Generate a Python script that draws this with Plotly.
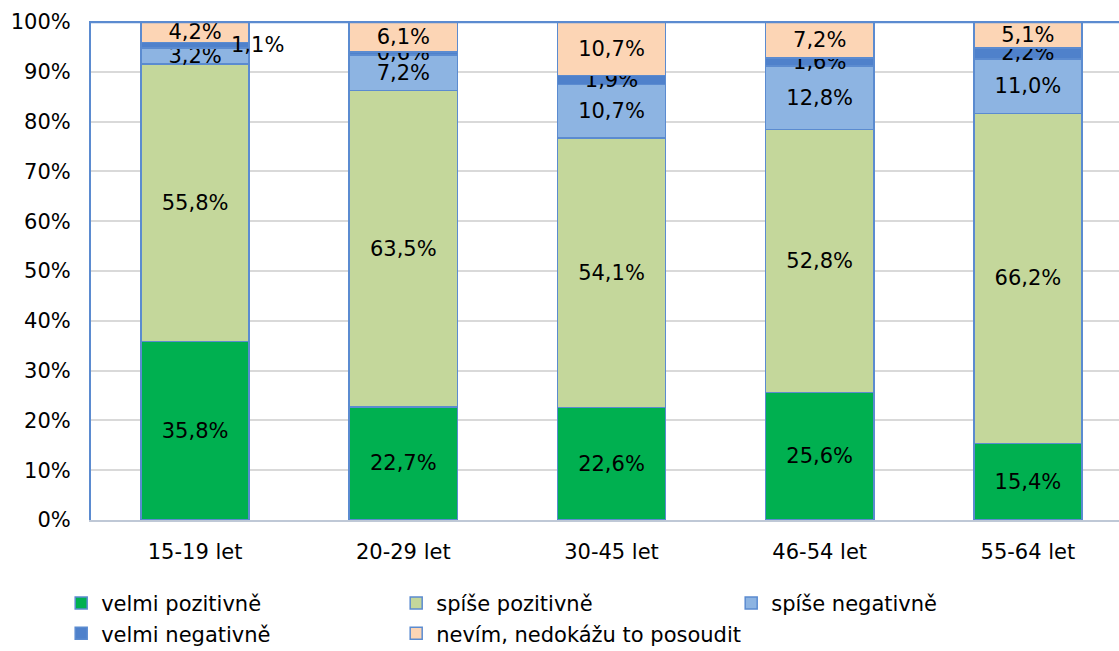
import plotly.graph_objects as go

# Age groups and answer shares (%)
categories = ["15-19 let", "20-29 let", "30-45 let", "46-54 let", "55-64 let"]
velmi_pozitivne = [35.8, 22.7, 22.6, 25.6, 15.4]
spise_pozitivne = [55.8, 63.5, 54.1, 52.8, 66.2]
spise_negativne = [3.2, 7.2, 10.7, 12.8, 11.0]
velmi_negativne = [1.1, 0.6, 1.9, 1.6, 2.2]
nevim = [4.2, 6.1, 10.7, 7.2, 5.1]

series = [
    ("velmi pozitivně", velmi_pozitivne, "#00B050"),
    ("spíše pozitivně", spise_pozitivne, "#C4D79B"),
    ("spíše negativně", spise_negativne, "#8DB4E2"),
    ("velmi negativně", velmi_negativne, "#4F81CB"),
    ("nevím, nedokážu to posoudit", nevim, "#FCD5B5"),
]

FONT = "DejaVu Sans"
FS = 21


def fmt(v):
    return f"{v:.1f}%".replace(".", ",")


fig = go.Figure()
for name, vals, color in series:
    labels = [fmt(v) for v in vals]
    if name == "velmi negativně":
        # the thin 15-19 segment carries its label beside the bar
        labels[0] = ""
    fig.add_trace(go.Bar(
        name=name,
        x=categories,
        y=vals,
        width=0.52,
        marker=dict(color=color, line=dict(color="#5B8BD0", width=1.5)),
        text=labels,
        textposition="inside",
        insidetextanchor="middle",
        textangle=0,
        constraintext="none",
        textfont=dict(family=FONT, size=FS, color="black"),
        cliponaxis=False,
    ))

# Side label for the thin "velmi negativně" segment of the first group
base0 = velmi_pozitivne[0] + spise_pozitivne[0] + spise_negativne[0]
fig.add_annotation(
    x=categories[0], y=base0 + velmi_negativne[0] / 2,
    text=fmt(velmi_negativne[0]), showarrow=False,
    xanchor="left", yanchor="middle", xshift=34,
    font=dict(family=FONT, size=FS, color="black"),
)

fig.update_layout(
    barmode="stack",
    width=1119,
    height=651,
    margin=dict(l=91, r=0, t=21, b=131, autoexpand=False),
    paper_bgcolor="white",
    plot_bgcolor="white",
    font=dict(family=FONT, size=FS, color="black"),
    showlegend=True,
    legend=dict(
        orientation="h",
        x=-0.029, xanchor="left",
        y=-0.126, yanchor="top",
        entrywidth=290,
        entrywidthmode="pixels",
        traceorder="normal",
        font=dict(family=FONT, size=FS),
        itemwidth=30,
        tracegroupgap=0,
    ),
    xaxis=dict(
        range=[-0.5, 4.4376],
        showline=True,
        linecolor="#BFC8D6",
        linewidth=2,
        showgrid=False,
        ticks="",
        ticklabelstandoff=12,
        tickfont=dict(family=FONT, size=FS),
        fixedrange=True,
    ),
    yaxis=dict(
        range=[0, 100.2],
        tickvals=[0, 10, 20, 30, 40, 50, 60, 70, 80, 90, 100],
        ticktext=[f"{v}%" for v in range(0, 101, 10)],
        showline=True,
        linecolor="#5B8BD0",
        linewidth=2,
        showgrid=True,
        gridcolor="#D9D9D9",
        gridwidth=2,
        zeroline=False,
        ticks="",
        ticklabelstandoff=14,
        tickfont=dict(family=FONT, size=FS),
        fixedrange=True,
    ),
)

# Plot-area top border
fig.add_shape(type="line", xref="paper", yref="y", x0=0, x1=1, y0=100, y1=100,
              line=dict(color="#5B8BD0", width=2.5), layer="above")

fig.write_html("out.html")
